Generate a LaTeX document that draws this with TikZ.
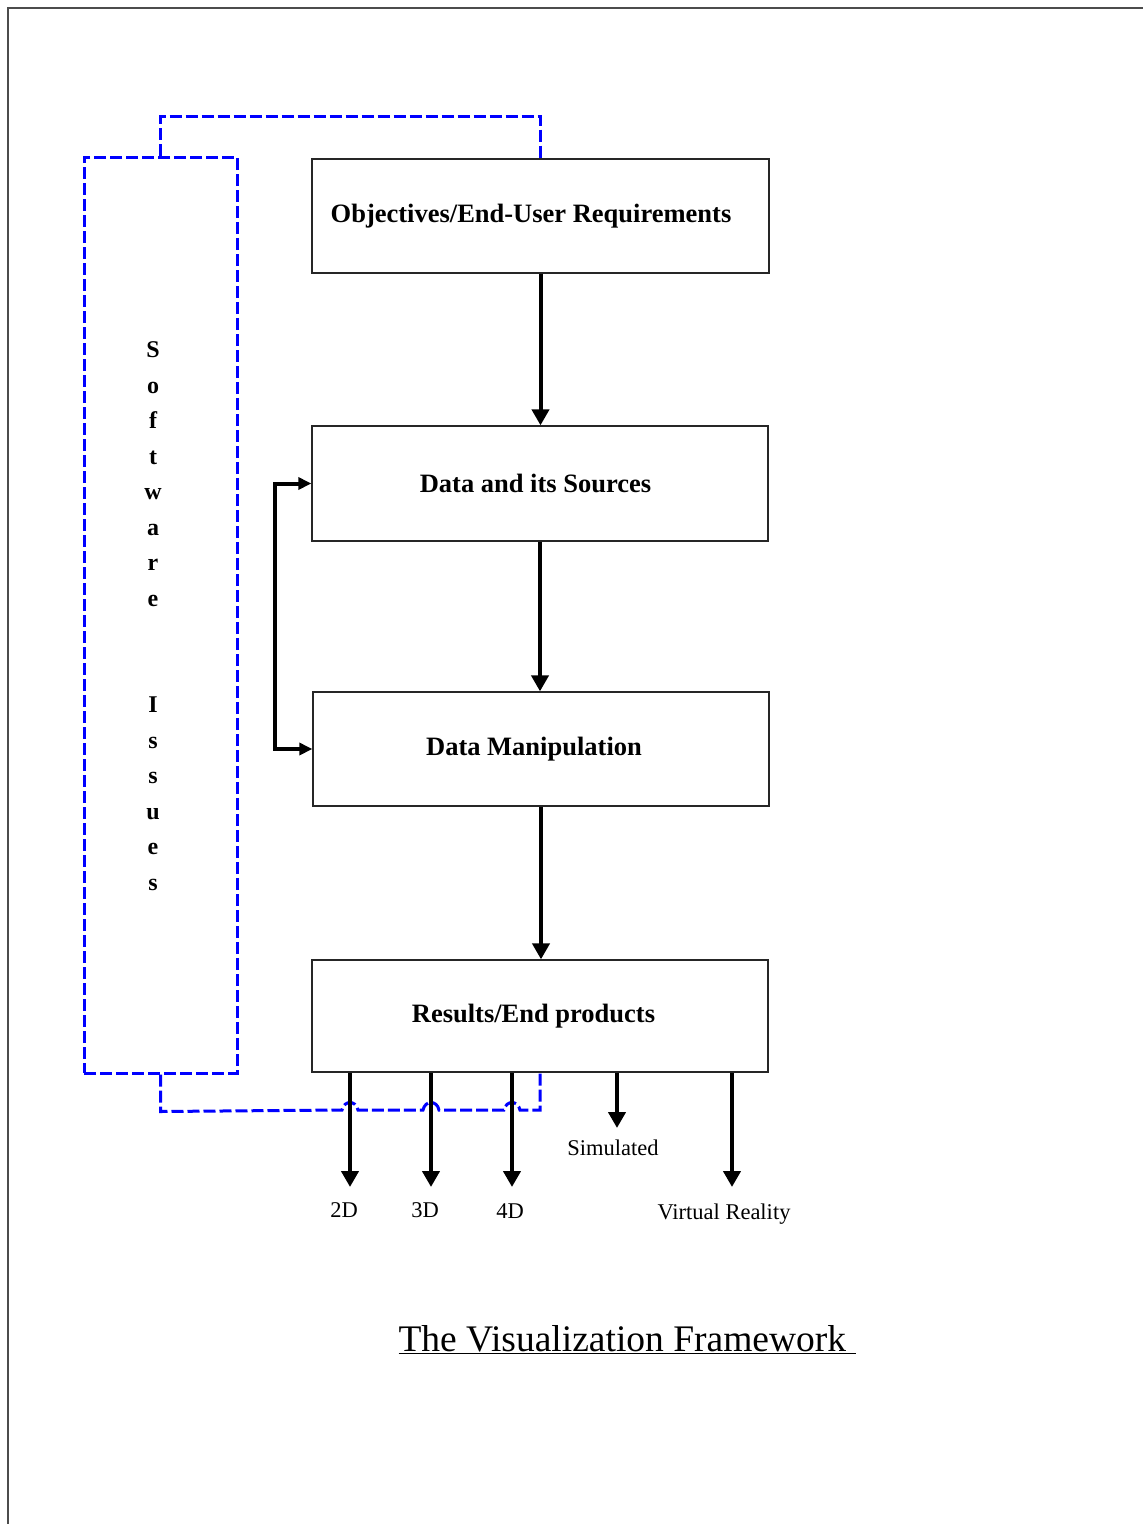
\documentclass[tikz,border=0pt]{standalone}
\usepackage{fontspec}
\setmainfont{Liberation Serif}
\usetikzlibrary{arrows.meta}
\begin{document}
\begin{tikzpicture}[x=1pt,y=-1pt,
  box/.style={draw=black!85,line width=1.3pt,minimum width=456pt,inner sep=0pt,font=\fontsize{26.5}{30}\selectfont\bfseries},
  arr/.style={line width=4pt,-{Triangle[length=16pt,width=17pt]}},
  brk/.style={line width=4pt,{Triangle[length=13pt,width=12pt]}-{Triangle[length=13pt,width=12pt]}},
  sw/.style={draw=blue,line width=3pt,dash pattern=on 12pt off 4pt},
  lbl/.style={font=\fontsize{22.5}{26}\selectfont,anchor=base}]
\useasboundingbox (0,0) rectangle (1143,1524);
\draw[black!70,line width=2.5pt] (8,1524) -- (8,8) -- (1143,8);
% boxes
\node[box,minimum width=457pt,minimum height=114pt] (obj) at (540.5,216) {Objectives/End-User Requirements\hspace*{19pt}};
\node[box,minimum height=115pt] (data) at (540,483.5) {Data and its Sources\hspace*{9pt}};
\node[box,minimum height=114pt] (manip) at (541,749) {Data Manipulation\hspace*{14pt}};
\node[box,minimum height=112pt] (res) at (540,1016) {Results/End products\hspace*{13pt}};
\node[sw,minimum width=153pt,minimum height=916pt,inner sep=0pt] (swbox) at (160.5,615) {};
\node[font=\fontsize{24}{35.5}\selectfont\bfseries,align=center,inner sep=0pt] (swtext) at (153,616) {S\\o\\f\\t\\w\\a\\r\\e\\\mbox{}\\\mbox{}\\I\\s\\s\\u\\e\\s};
% blue connectors
\draw[sw] (swbox.north) -- ++(0,-39) -| (obj.north);
\draw[sw] (swbox.south) -- ++(0,37) -- (342,1110) .. controls (344,1100) and (356,1100) .. (358,1110)
  -- (423,1110) .. controls (425,1100) and (437,1100) .. (439,1110)
  -- (504,1110) .. controls (506,1100) and (518,1100) .. (520,1110)
  -- (res.south |- 0,1110) -- (res.south);
% main arrows
\draw[arr] (obj.south) -- (obj.south |- data.north);
\draw[arr] (data.south) -- (data.south |- manip.north);
\draw[arr] (manip.south) -- (manip.south |- res.north);
\coordinate (bx) at (275,0);
\draw[brk] (data.west) -- (data.west -| bx) -- (manip.west -| bx) -- (manip.west);
% output arrows
\coordinate (t2) at (350,1187);
\coordinate (t3) at (431,1187);
\coordinate (t4) at (512,1187);
\coordinate (ts) at (617,1128);
\coordinate (tv) at (732,1187);
\draw[arr] (t2 |- res.south) -- (t2);
\draw[arr] (t3 |- res.south) -- (t3);
\draw[arr] (t4 |- res.south) -- (t4);
\draw[arr] (ts |- res.south) -- (ts);
\draw[arr] (tv |- res.south) -- (tv);
\node[lbl] (l2) at (344,1217.5) {2D};
\node[lbl] (l3) at (425,1217.5) {3D};
\node[lbl] (l4) at (510,1218.5) {4D};
\node[lbl] (ls) at (613,1155.5) {Simulated};
\node[lbl] (lv) at (724,1219.5) {Virtual Reality};
\node[font=\fontsize{37.5}{44}\selectfont,anchor=base] (title) at (627,1351) {\underline{The Visualization Framework\ }};
\end{tikzpicture}
\end{document}
